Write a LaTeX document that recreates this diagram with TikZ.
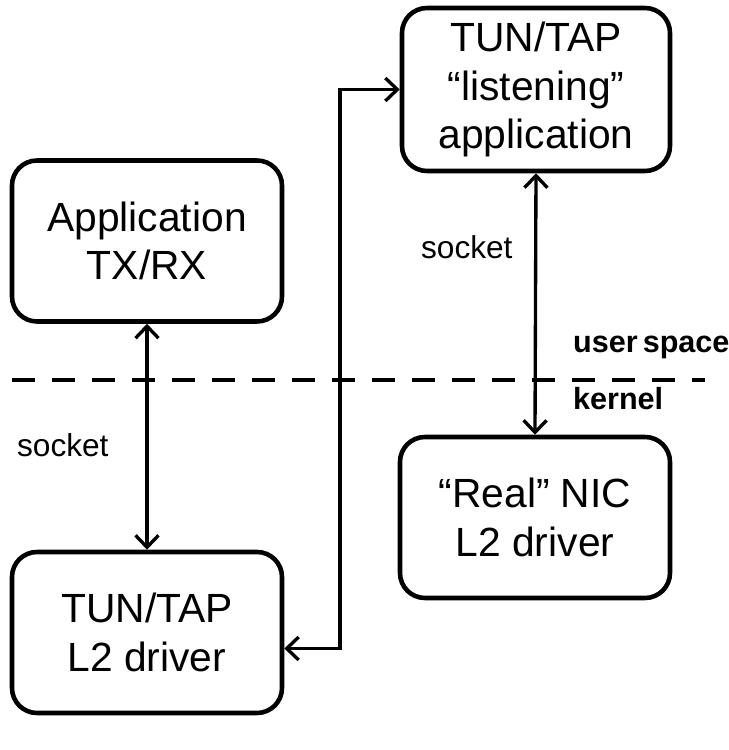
\documentclass[tikz,border=0pt]{standalone}
\usepackage{fontspec}
\setmainfont{Liberation Sans}
\usetikzlibrary{arrows.meta}
\begin{document}
\begin{tikzpicture}[every node/.style={inner sep=1pt}]
\tikzstyle{box}=[draw,line width=2.6pt,rounded corners=0.5cm,minimum width=5.4cm,minimum height=3.22cm,align=center,font=\fontsize{23.2}{27.5}\selectfont]
\tikzstyle{arrow}=[draw,line width=1.9pt,{Straight Barb[length=0.24cm,width=0.46cm]}-{Straight Barb[length=0.24cm,width=0.46cm]}]
\tikzstyle{lbl}=[anchor=base west,font=\fontsize{18}{20}\selectfont]
\tikzstyle{side}=[anchor=base west,font=\fontsize{17.4}{20}\bfseries\selectfont]
\useasboundingbox (0,0) rectangle (14.58,15);

\node[box](app) at (2.94,10.18){Application\\TX/RX};
\node[box](tun) at (2.94,2.35){TUN/TAP\\L2 driver};
\node[box,minimum width=5.36cm,minimum height=3.26cm](lis) at (10.72,13.21){TUN/TAP\\“listening”\\application};
\node[box](nic) at (10.7,4.65){“Real” NIC\\L2 driver};

\node[lbl](s1) at (0.3,5.86){socket};
\node[lbl](s2) at (8.38,9.82){socket};
\node[side](us) at (11.42,7.94){user\,space};
\node[side](kn) at (11.42,6.8){kernel};

\coordinate (d0) at (0.24,7.4);
\coordinate (d1) at (14.1,7.4);
\coordinate (bend) at (6.8,0);

\path[draw,line width=2.6pt,dash pattern=on 0.46cm off 0.34cm](d0)--(d1);

\path[arrow](app.south)--(tun.north);
\path[arrow](lis.south)--(nic.north);
\path[arrow]([yshift=-0.32cm]tun.east)-|(bend|-lis.west)--(lis.west);
\end{tikzpicture}
\end{document}
